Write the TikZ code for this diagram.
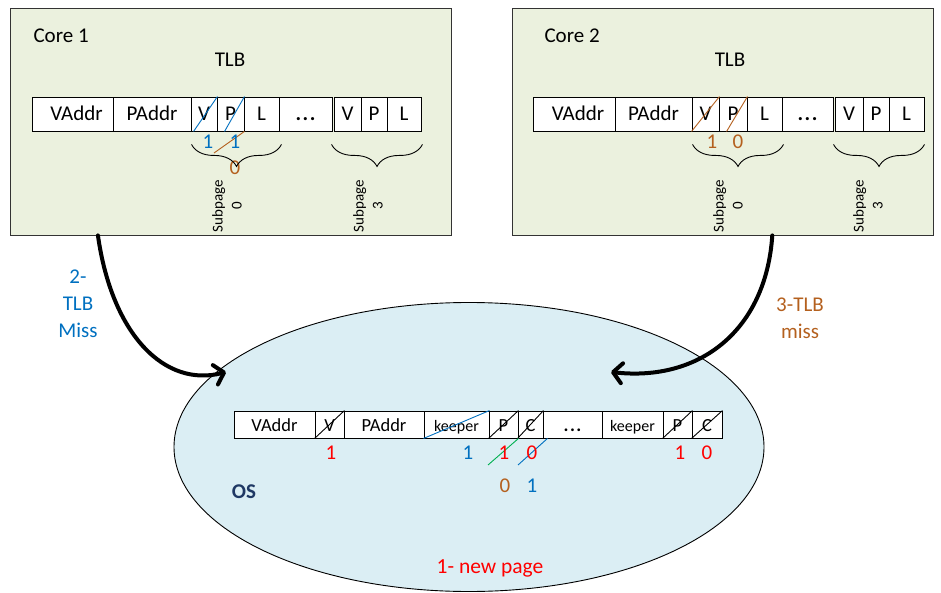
\documentclass[tikz,border=0pt]{standalone}
\usepackage{fontspec}
\setmainfont{Carlito}
\usetikzlibrary{shapes.geometric,decorations.pathreplacing,arrows.meta,calc}

\definecolor{coregreen}{HTML}{EBF1DE}
\definecolor{osblue}{HTML}{DBEEF4}
\definecolor{bitblue}{HTML}{0070C0}
\definecolor{bitbrown}{HTML}{B4601E}
\definecolor{bitred}{HTML}{FF0000}
\definecolor{bitgreen}{HTML}{00B050}
\definecolor{osnavy}{HTML}{1F3864}

% one table cell: name, left, right, top, bottom, text
\newcommand\cellbox[6]{%
  \node[cell, minimum width={(#3-#2)*1pt}, minimum height={(#5-#4)*1pt}]
    (#1) at ({(#2+#3)/2},{(#4+#5)/2}) {#6};}
\newcommand\moredots{\textbf{.\kern1.5pt.\kern1.5pt.}}

\begin{document}
\begin{tikzpicture}[x=1pt, y=-1pt,
  cell/.style={draw=black, fill=white, line width=0.9pt, inner sep=0pt},
  corebox/.style={draw=black!80, fill=coregreen, line width=0.9pt, inner sep=0pt},
  big/.style={font=\fontsize{21}{25}\selectfont, text height=15pt, text depth=1.5pt},
  small/.style={font=\fontsize{18.5}{22}\selectfont, text height=13pt, text depth=0pt},
  bit/.style={font=\fontsize{21}{25}\selectfont, inner sep=0pt},
  sublabel/.style={font=\fontsize{15}{19}\selectfont, rotate=90, align=center, inner sep=0pt},
  bracebr/.style={decorate, decoration={brace, mirror, amplitude=22pt}, line width=0.9pt},
  strike/.style={line width=0.9pt},
  missarrow/.style={line width=4pt, line cap=round,
    -{Straight Barb[length=9pt, width=20pt, line width=4pt, round]}},
  missblue/.style={font=\fontsize{21}{27}\selectfont, text=bitblue, align=center},
  missbrown/.style={font=\fontsize{21}{27}\selectfont, text=bitbrown, align=center}]

\useasboundingbox (0,0) rectangle (941,593);

% ---------- the two cores ----------
\node[corebox, minimum width=441pt, minimum height=227pt] (core1) at (230.5,121.5) {};
\node[corebox, minimum width=421pt, minimum height=227pt] (core2) at (722.5,121.5) {};

\node[font=\fontsize{21}{25}\selectfont, anchor=west] (core1name) at (30,36) {Core 1};
\node[font=\fontsize{21}{25}\selectfont] (tlb1) at (230,60) {TLB};
\node[font=\fontsize{21}{25}\selectfont, anchor=west] (core2name) at (541,36) {Core 2};
\node[font=\fontsize{21}{25}\selectfont] (tlb2) at (730,60) {TLB};

% TLB entry in core 1
\begin{scope}[every node/.append style={big}]
\cellbox{a1va}{32}{113}{97}{131}{\hspace{8pt}VAddr}
\cellbox{a1pa}{113}{191}{97}{131}{PAddr}
\cellbox{a1v}{191}{217}{97}{131}{V}
\cellbox{a1p}{217}{244}{97}{131}{P}
\cellbox{a1l}{244}{279}{97}{131}{L}
\cellbox{a1d}{279}{332}{97}{131}{\moredots}
\cellbox{a1vb}{334}{361}{97}{131}{V}
\cellbox{a1pb}{361}{387}{97}{131}{P}
\cellbox{a1lb}{387}{421}{97}{131}{L}
\end{scope}

% TLB entry in core 2
\begin{scope}[every node/.append style={big}]
\cellbox{a2va}{533}{615}{97}{131}{\hspace{8pt}VAddr}
\cellbox{a2pa}{615}{692}{97}{131}{PAddr}
\cellbox{a2v}{692}{719}{97}{131}{V}
\cellbox{a2p}{719}{747}{97}{131}{P}
\cellbox{a2l}{747}{782}{97}{131}{L}
\cellbox{a2d}{782}{833}{97}{131}{\moredots}
\cellbox{a2vb}{835}{863}{97}{131}{V}
\cellbox{a2pb}{863}{889}{97}{131}{P}
\cellbox{a2lb}{889}{924}{97}{131}{L}
\end{scope}

% core 1 bit updates
\draw[strike, bitblue] ($(a1v.south west)+(3,0)$) -- (a1v.north east);
\draw[strike, bitblue] ($(a1p.south west)+(8,0)$) -- (a1p.north east);
\coordinate (b1end) at (214,153);
\draw[strike, bitbrown] (a1p.south east) -- (b1end);
\node[bit, text=bitblue] (n1v) at (208,142) {1};
\node[bit, text=bitblue] (n1p) at (235,142) {1};
\node[bit, text=bitbrown] (n1l) at (235,168) {0};

% core 2 bit updates
\draw[strike, bitbrown] (a2v.south west) -- (a2v.north east);
\draw[strike, bitbrown] ($(a2p.south west)+(8,0)$) -- (a2p.north east);
\node[bit, text=bitbrown] (n2v) at (712,142) {1};
\node[bit, text=bitbrown] (n2p) at (738,142) {0};

% subpage braces and labels
\draw[bracebr] ($(a1v.south west)+(1,13)$) -- ($(a1l.south east)+(2,13)$);
\draw[bracebr] ($(a1vb.south west)+(-2,13)$) -- ($(a1lb.south east)+(1,13)$);
\draw[bracebr] ($(a2v.south west)+(1,13)$) -- ($(a2l.south east)+(1,13)$);
\draw[bracebr] ($(a2vb.south west)+(-1,13)$) -- ($(a2lb.south east)+(0,13)$);
\node[sublabel] (s10) at (227,206) {Subpage\\0};
\node[sublabel] (s13) at (368,206) {Subpage\\3};
\node[sublabel] (s20) at (728,206) {Subpage\\0};
\node[sublabel] (s23) at (868,206) {Subpage\\3};

% ---------- the OS ----------
\node[ellipse, draw=black, fill=osblue, line width=0.9pt, inner sep=0pt,
      minimum width=590pt, minimum height=289pt] (os) at (469,447) {};
\node[font=\fontsize{21}{25}\selectfont\bfseries, text=osnavy] (oslabel) at (244,492) {OS};

% page table entry held by the OS
\begin{scope}[every node/.append style={small}]
\cellbox{ova}{234}{315}{411}{438}{VAddr}
\cellbox{ov}{315}{344}{411}{438}{V}
\cellbox{opa}{344}{424}{411}{438}{PAddr}
\cellbox{ok}{424}{489}{411}{438}{\fontsize{16}{19}\selectfont keeper}
\cellbox{op}{489}{518}{411}{438}{P}
\cellbox{oc}{518}{543}{411}{438}{C}
\cellbox{od}{543}{602}{411}{438}{\moredots}
\cellbox{okb}{602}{663}{411}{438}{\fontsize{16}{19}\selectfont keeper}
\cellbox{opb}{663}{692}{411}{438}{P}
\cellbox{ocb}{692}{722}{411}{438}{C}
\end{scope}

% struck-out fields
\foreach \c in {ov, op, oc, opb, ocb}
  \draw[strike, black] (\c.south west) -- (\c.north east);
\draw[strike, bitblue] (ok.south west) -- (ok.north east);
\coordinate (gend) at (488,465);
\draw[strike, bitgreen] (op.south east) -- (gend);
\coordinate (bend) at (518,465);
\draw[strike, bitblue] ($(oc.south east)+(4,0)$) -- (bend);

% OS bit values
\node[bit, text=bitred] (o1) at (331,453) {1};
\node[bit, text=bitblue] (o2) at (468,453) {1};
\node[bit, text=bitred] (o3) at (504,453) {1};
\node[bit, text=bitred] (o4) at (532,453) {0};
\node[bit, text=bitred] (o5) at (680,453) {1};
\node[bit, text=bitred] (o6) at (707,453) {0};
\node[bit, text=bitbrown] (o7) at (505,486) {0};
\node[bit, text=bitblue] (o8) at (532,486) {1};

\node[font=\fontsize{21.5}{25}\selectfont, text=bitred] (newpage) at (490,568) {1- new page};

% ---------- TLB misses ----------
\coordinate (m1start) at ($(core1.south west)!0.2!(core1.south east)$);
\coordinate (m1end) at (226,372);
\draw[missarrow] (m1start) .. controls (112,335) and (165,388) .. (m1end);
\node[missblue] (m1label) at (78,304) {2-\\TLB\\Miss};

\coordinate (m2start) at ($(core2.south west)!0.618!(core2.south east)$);
\coordinate (m2end) at (611,372);
\draw[missarrow] (m2start) .. controls (766,330) and (700,382) .. (m2end);
\node[missbrown] (m2label) at (800,318) {3-TLB\\miss};

\end{tikzpicture}
\end{document}
